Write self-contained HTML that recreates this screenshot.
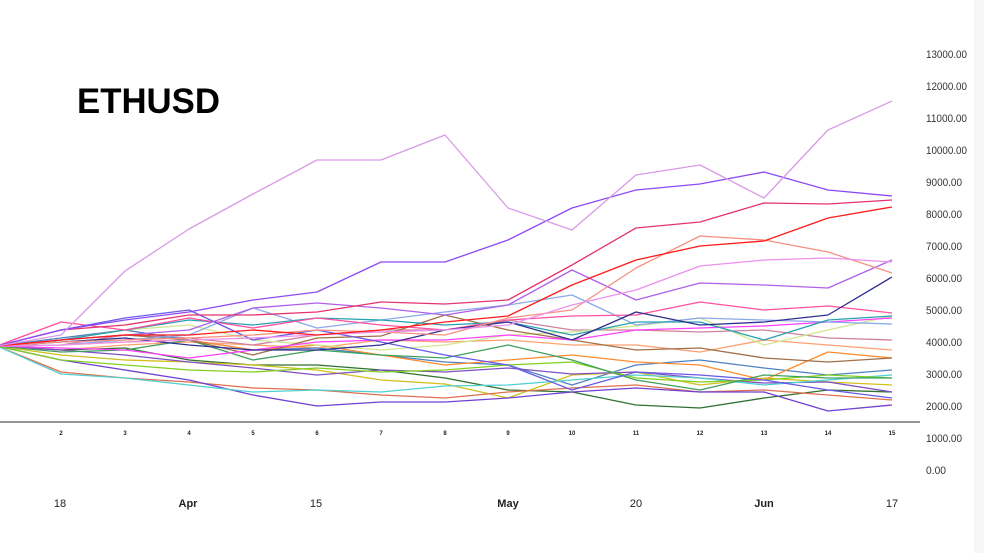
<!DOCTYPE html>
<html><head><meta charset="utf-8"><style>
html,body{margin:0;padding:0;background:#fff;}
body{width:984px;height:553px;overflow:hidden;position:relative;font-family:"Liberation Sans",sans-serif;}
</style></head><body>
<svg width="984" height="553" viewBox="0 0 984 553" xmlns="http://www.w3.org/2000/svg" style="position:absolute;left:0;top:0">
<rect x="974" y="0" width="10" height="553" fill="#f5f6f8"/>
<text x="77" y="113" font-family="Liberation Sans, sans-serif" font-weight="bold" font-size="35" fill="#000" textLength="143" lengthAdjust="spacingAndGlyphs">ETHUSD</text>
<g font-family="Liberation Sans, sans-serif" font-size="11" fill="#333">
<text x="926" y="58" textLength="41" lengthAdjust="spacingAndGlyphs">13000.00</text><text x="926" y="90" textLength="41" lengthAdjust="spacingAndGlyphs">12000.00</text><text x="926" y="122" textLength="41" lengthAdjust="spacingAndGlyphs">11000.00</text>
<text x="926" y="154" textLength="41" lengthAdjust="spacingAndGlyphs">10000.00</text><text x="926" y="186" textLength="36" lengthAdjust="spacingAndGlyphs">9000.00</text><text x="926" y="218" textLength="36" lengthAdjust="spacingAndGlyphs">8000.00</text>
<text x="926" y="250" textLength="36" lengthAdjust="spacingAndGlyphs">7000.00</text><text x="926" y="282" textLength="36" lengthAdjust="spacingAndGlyphs">6000.00</text><text x="926" y="314" textLength="36" lengthAdjust="spacingAndGlyphs">5000.00</text>
<text x="926" y="346" textLength="36" lengthAdjust="spacingAndGlyphs">4000.00</text><text x="926" y="378" textLength="36" lengthAdjust="spacingAndGlyphs">3000.00</text><text x="926" y="410" textLength="36" lengthAdjust="spacingAndGlyphs">2000.00</text>
<text x="926" y="442" textLength="36" lengthAdjust="spacingAndGlyphs">1000.00</text><text x="926" y="474" textLength="20" lengthAdjust="spacingAndGlyphs">0.00</text>
</g>
<g font-family="Liberation Sans, sans-serif" font-size="11" fill="#222" text-anchor="middle">
<text x="60" y="507">18</text><text x="188" y="507" font-weight="bold">Apr</text><text x="316" y="507">15</text>
<text x="508" y="507" font-weight="bold">May</text><text x="636" y="507">20</text><text x="764" y="507" font-weight="bold">Jun</text><text x="892" y="507">17</text>
</g>
<g font-family="Liberation Sans, sans-serif" font-size="6" font-weight="bold" fill="#222" text-anchor="middle">
<text x="61" y="435">2</text><text x="125" y="435">3</text><text x="189" y="435">4</text><text x="253" y="435">5</text>
<text x="317" y="435">6</text><text x="381" y="435">7</text><text x="445" y="435">8</text><text x="508" y="435">9</text>
<text x="572" y="435">10</text><text x="636" y="435">11</text><text x="700" y="435">12</text><text x="764" y="435">13</text>
<text x="828" y="435">14</text><text x="892" y="435">15</text>
</g>
<line x1="0" y1="422" x2="920" y2="422" stroke="#555" stroke-width="1.2"/>
<g fill="none" stroke-width="1.3" stroke-linejoin="round">
<polyline stroke="#ffa070" points="-3,346 61,350 125,345 189,342 253,345 317,348 381,340 445,342 508,340 572,345 636,345 700,352 764,340 828,345 892,350"/>
<polyline stroke="#d080a0" points="-3,346 61,345 125,335 189,338 253,345 317,335 381,330 445,330 508,320 572,330 636,330 700,332 764,330 828,338 892,340"/>
<polyline stroke="#5080c0" points="-3,346 61,338 125,330 189,340 253,350 317,348 381,355 445,362 508,365 572,385 636,365 700,360 764,368 828,375 892,370"/>
<polyline stroke="#307030" points="-3,346 61,350 125,348 189,360 253,365 317,365 381,370 445,378 508,390 572,392 636,405 700,408 764,398 828,390 892,392"/>
<polyline stroke="#d0c020" points="-3,346 61,355 125,360 189,362 253,365 317,370 381,380 445,384 508,398 572,375 636,372 700,385 764,378 828,382 892,385"/>
<polyline stroke="#e07050" points="-3,346 61,372 125,378 189,382 253,388 317,390 381,395 445,398 508,392 572,388 636,385 700,392 764,390 828,395 892,400"/>
<polyline stroke="#7040d0" points="-3,346 61,360 125,370 189,380 253,395 317,406 381,402 445,402 508,398 572,392 636,388 700,392 764,392 828,411 892,405"/>
<polyline stroke="#8050c0" points="-3,346 61,350 125,355 189,362 253,368 317,375 381,370 445,372 508,368 572,374 636,372 700,378 764,383 828,382 892,392"/>
<polyline stroke="#50d0d0" points="-3,346 61,374 125,378 189,385 253,392 317,390 381,392 445,386 508,385 572,380 636,375 700,378 764,385 828,380 892,375"/>
<polyline stroke="#ff8c30" points="-3,346 61,345 125,342 189,340 253,350 317,345 381,355 445,365 508,360 572,355 636,362 700,365 764,380 828,352 892,358"/>
<polyline stroke="#d0e890" points="-3,346 61,340 125,330 189,325 253,340 317,345 381,350 445,345 508,335 572,332 636,326 700,318 764,345 828,330 892,316"/>
<polyline stroke="#80d020" points="-3,346 61,360 125,365 189,370 253,372 317,368 381,372 445,370 508,365 572,362 636,378 700,382 764,380 828,375 892,378"/>
<polyline stroke="#40a060" points="-3,346 61,352 125,350 189,340 253,360 317,350 381,355 445,358 508,345 572,360 636,380 700,390 764,375 828,378 892,378"/>
<polyline stroke="#a0704a" points="-3,346 61,340 125,335 189,340 253,355 317,338 381,336 445,315 508,330 572,340 636,350 700,348 764,358 828,362 892,358"/>
<polyline stroke="#ff40ff" points="-3,346 61,348 125,350 189,358 253,350 317,342 381,340 445,340 508,335 572,340 636,330 700,328 764,326 828,322 892,318"/>
<polyline stroke="#8aaae8" points="-3,346 61,345 125,340 189,335 253,308 317,328 381,320 445,312 508,305 572,295 636,325 700,318 764,320 828,322 892,324"/>
<polyline stroke="#2aa0b0" points="-3,346 61,340 125,330 189,320 253,325 317,318 381,320 445,325 508,322 572,335 636,322 700,322 764,340 828,320 892,316"/>
<polyline stroke="#ff50a0" points="-3,346 61,322 125,330 189,318 253,328 317,318 381,325 445,330 508,320 572,316 636,315 700,302 764,310 828,306 892,313"/>
<polyline stroke="#6a5ae8" points="-3,346 61,330 125,318 189,310 253,340 317,330 381,342 445,355 508,365 572,390 636,372 700,375 764,380 828,390 892,398"/>
<polyline stroke="#2e2e90" points="-3,346 61,342 125,338 189,345 253,350 317,350 381,345 445,330 508,322 572,340 636,312 700,325 764,322 828,315 892,277"/>
<polyline stroke="#b060e8" points="-3,346 61,340 125,335 189,330 253,308 317,303 381,308 445,315 508,305 572,270 636,300 700,283 764,285 828,288 892,260"/>
<polyline stroke="#f59080" points="-3,346 61,342 125,340 189,338 253,335 317,330 381,332 445,335 508,318 572,310 636,268 700,236 764,240 828,252 892,273"/>
<polyline stroke="#ee90ee" points="-3,346 61,345 125,342 189,340 253,338 317,335 381,332 445,330 508,325 572,305 636,290 700,266 764,260 828,258 892,262"/>
<polyline stroke="#ff1a1a" points="-3,346 61,340 125,335 189,335 253,330 317,335 381,330 445,322 508,316 572,285 636,260 700,246 764,241 828,218 892,207"/>
<polyline stroke="#e6336e" points="-3,346 61,330 125,325 189,315 253,315 317,312 381,302 445,304 508,300 572,265 636,228 700,222 764,203 828,204 892,200"/>
<polyline stroke="#8b4af5" points="-3,346 61,330 125,320 189,312 253,300 317,292 381,262 445,262 508,240 572,208 636,190 700,184 764,172 828,190 892,196"/>
<polyline stroke="#d99ae6" points="-3,346 61,335 125,271 189,229 253,194 317,160 381,160 445,135 508,208 572,230 636,175 700,165 764,198 828,130 892,101"/>
</g>
</svg>
</body></html>
